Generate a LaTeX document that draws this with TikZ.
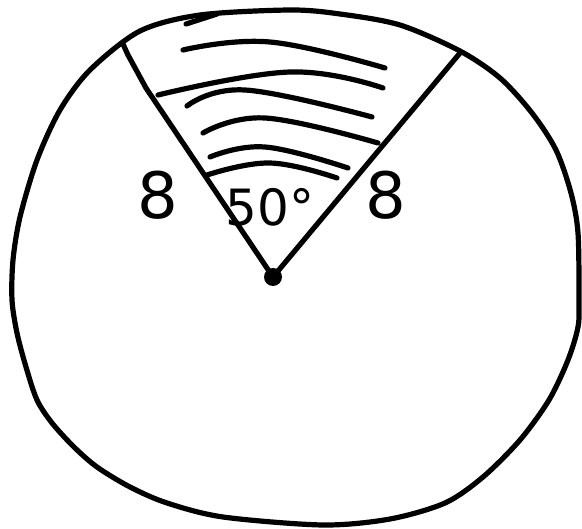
\documentclass[tikz,border=0pt]{standalone}
\usepackage{fontspec}
\setmainfont{DejaVu Sans}
\begin{document}
\begin{tikzpicture}[
    x=1pt, y=-1pt,
    pen/.style={line width=5.2pt, line cap=round, line join=round},
    sidelabel/.style={inner sep=0pt, font=\fontsize{64}{64}\selectfont}
  ]
    \useasboundingbox (0,0) rectangle (582,529);

    % outline of the disc
    \draw[pen] plot[smooth cycle, tension=0.5] coordinates {
      (290,10) (200,15) (140,31) (90,70) (60,110) (37,160) (20,217)
      (13,260) (12,300) (17,333) (26,367) (37,400) (52,423) (74,447)
      (97,467) (130,487) (167,503) (223,517) (323,525) (390,519) (445,503)
      (483,477) (520,440) (549,400) (568,360) (578,327) (579,300) (578,233)
      (571,193) (556,150) (532,113) (500,78) (460,51) (400,25) (340,14)};
    \draw[pen] (186,24) -- (217,14);

    % sector
    \coordinate (centre) at (273,277);
    \coordinate (edgeL) at (123,44);
    \coordinate (edgeR) at (460,53);
    \draw[pen] (edgeL) -- (128,55) -- (146,88) -- (centre) -- (edgeR);
    \fill (centre) circle (9);

    % shading strokes
    \foreach \a/\b/\c in {{(183,50)}/{(270,42)}/{(385,68)},
                          {(158,95)}/{(290,72)}/{(383,88)},
                          {(187,106)}/{(245,90)}/{(372,117)},
                          {(203,133)}/{(265,118)}/{(378,143)},
                          {(210,157)}/{(265,147)}/{(348,168)},
                          {(207,175)}/{(270,163)}/{(337,178)}}
      \draw[pen] plot[smooth, tension=0.7] coordinates {\a \b \c};

    % labels
    \node[sidelabel] (sideL) at (158,195) {8};
    \node[sidelabel] (sideR) at (386,195) {8};
    \node[inner sep=0pt, font=\fontsize{50}{50}\selectfont] (angle) at (270,207) {50°};
  \end{tikzpicture}
\end{document}
